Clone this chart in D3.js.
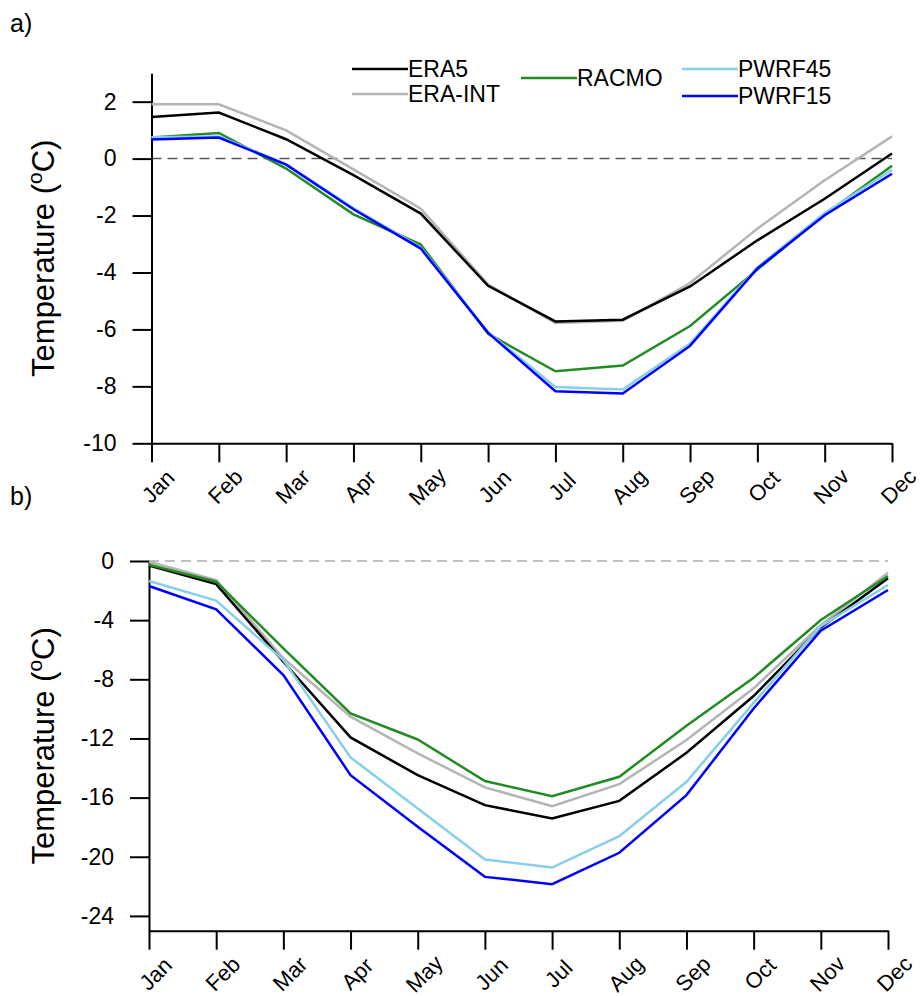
<!DOCTYPE html>
<html>
<head>
<meta charset="utf-8">
<script src="https://cdn.jsdelivr.net/npm/d3@7"></script>
<style>
  body { margin: 0; background: #fff; }
  svg text { font-family: "Liberation Sans", Arial, Helvetica, sans-serif; fill: #000; }
</style>
</head>
<body>
<div id="chart"></div>
<script>
var months = ['Jan','Feb','Mar','Apr','May','Jun','Jul','Aug','Sep','Oct','Nov','Dec'];
var seriesNames = ['ERA5','ERA-INT','RACMO','PWRF45','PWRF15'];
var seriesColors = ['#000000','#b4b4b4','#228b22','#87ceeb','#0000ff'];

// panel a values (degC)
var aERA5   = [1.46, 1.62, 0.68, -0.58, -1.93, -4.47, -5.72, -5.66, -4.49, -2.87, -1.41, 0.18];
var aERAINT = [1.91, 1.91, 0.99, -0.38, -1.76, -4.42, -5.77, -5.70, -4.37, -2.46, -0.76, 0.78];
var aRACMO  = [0.74, 0.90, -0.35, -1.96, -3.02, -6.15, -7.47, -7.27, -5.88, -3.90, -1.96, -0.25];
var aPWRF45 = [0.75, 0.78, -0.19, -1.74, -3.12, -6.10, -8.02, -8.11, -6.50, -3.82, -1.91, -0.39];
var aPWRF15 = [0.67, 0.74, -0.21, -1.78, -3.16, -6.12, -8.17, -8.25, -6.58, -3.86, -1.99, -0.53];

// panel b values (degC)
var bERA5   = [-0.30, -1.56, -6.81, -11.93, -14.48, -16.51, -17.41, -16.22, -12.97, -9.13, -4.49, -1.17];
var bERAINT = [-0.05, -1.29, -6.58, -10.53, -13.01, -15.31, -16.58, -15.09, -12.11, -8.61, -4.33, -0.79];
var bRACMO  = [-0.25, -1.40, -5.91, -10.31, -12.07, -14.88, -15.90, -14.59, -11.14, -7.89, -3.99, -1.01];
var bPWRF45 = [-1.35, -2.68, -6.70, -13.28, -16.73, -20.19, -20.73, -18.61, -14.93, -9.59, -4.40, -1.62];
var bPWRF15 = [-1.69, -3.27, -7.71, -14.48, -17.97, -21.36, -21.85, -19.73, -15.83, -9.97, -4.71, -1.96];

var aTicks = [2, 0, -2, -4, -6, -8, -10];
var bTicks = [0, -4, -8, -12, -16, -20, -24];

var W = 920, H = 996;
var svg = d3.select('#chart').append('svg')
    .attr('width', W)
    .attr('height', H);

function drawPanel(opt) {
    var x = d3.scalePoint().domain(months).range([opt.x0, opt.x1]);
    var y = d3.scaleLinear().domain(opt.ydomain).range([opt.yb, opt.yt]);
    var g = svg.append('g');

    // zero reference line
    g.append('line')
        .attr('x1', opt.x0).attr('x2', opt.x1)
        .attr('y1', y(0)).attr('y2', y(0))
        .attr('stroke', opt.zeroColor)
        .attr('stroke-width', 1.5)
        .attr('stroke-dasharray', '10,6');

    var yAxis = d3.axisLeft(y).tickValues(opt.ticks).tickSize(19).tickSizeOuter(0).tickPadding(16)
        .tickFormat(function (d) { return d; });
    var yAxisG = g.append('g')
        .attr('transform', 'translate(' + opt.x0 + ',0)')
        .call(yAxis);
    yAxisG.selectAll('text').attr('font-size', 23);

    var xAxis = d3.axisBottom(x).tickSize(19).tickSizeOuter(0);
    var xAxisG = g.append('g')
        .attr('transform', 'translate(0,' + opt.yb + ')')
        .call(xAxis);
    xAxisG.selectAll('text')
        .attr('font-size', 22)
        .attr('y', null)
        .attr('dy', '0.35em')
        .attr('text-anchor', 'middle')
        .attr('transform', 'translate(6,43) rotate(-45)');

    g.selectAll('.domain, .tick line')
        .attr('stroke', '#000')
        .attr('stroke-width', 2);

    var line = d3.line()
        .x(function (d, i) { return x(months[i]); })
        .y(function (d) { return y(d); });

    var order = [1, 0, 2, 3, 4];
    order.forEach(function (k) {
        g.append('path')
            .datum(opt.series[k])
            .attr('fill', 'none')
            .attr('stroke', seriesColors[k])
            .attr('stroke-width', 2.5)
            .attr('d', line);
    });

    // y label
    var yl = g.append('text')
        .attr('transform', 'translate(' + opt.labelX + ',' + ((opt.yt + opt.yb) / 2) + ') rotate(-90)')
        .attr('text-anchor', 'middle')
        .attr('font-size', 31);
    yl.append('tspan').text('Temperature (');
    yl.append('tspan').attr('font-size', 21).attr('dy', -12).text('o');
    yl.append('tspan').attr('dy', 12).text('C)');

    // panel letter
    svg.append('text')
        .attr('x', 10).attr('y', opt.letterY)
        .attr('font-size', 25)
        .text(opt.letter);
}

drawPanel({
    x0: 151.5, x1: 892, yb: 443.3, yt: 73.2, ydomain: [-10, 3],
    ticks: aTicks, zeroColor: '#555',
    series: [aERA5, aERAINT, aRACMO, aPWRF45, aPWRF15],
    labelX: 54, letter: 'a)', letterY: 32
});

drawPanel({
    x0: 149, x1: 888, yb: 930.7, yt: 561, ydomain: [-25, 0],
    ticks: bTicks, zeroColor: '#aaa',
    series: [bERA5, bERAINT, bRACMO, bPWRF45, bPWRF15],
    labelX: 54, letter: 'b)', letterY: 505
});

// legend (panel a only)
var legendPos = [[352, 69], [352, 94], [521, 78], [682, 69], [682, 96]];
var leg = svg.append('g');
seriesNames.forEach(function (name, i) {
    var p = legendPos[i];
    leg.append('line')
        .attr('x1', p[0]).attr('x2', p[0] + 56)
        .attr('y1', p[1]).attr('y2', p[1])
        .attr('stroke', seriesColors[i])
        .attr('stroke-width', 2.5);
    leg.append('text')
        .attr('x', p[0] + 56).attr('y', p[1])
        .attr('dy', '0.36em')
        .attr('font-size', 23)
        .text(name);
});
</script>
</body>
</html>
